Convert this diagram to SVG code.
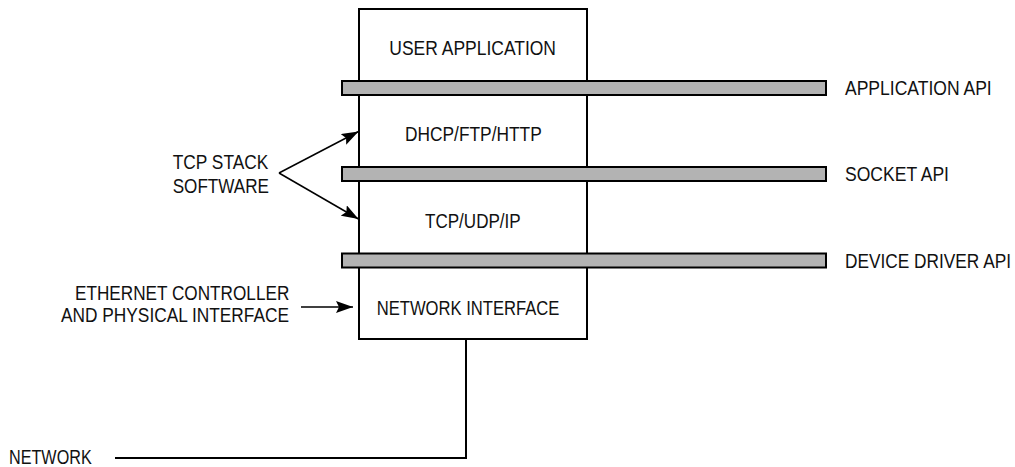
<svg xmlns="http://www.w3.org/2000/svg" width="1015" height="467" viewBox="0 0 1015 467">
<style>
  text { font-family: "Liberation Sans", Arial, sans-serif; font-size: 17.2px; fill: #111; }
  .box { fill: #fff; stroke: #000; stroke-width: 2; }
  .bar { fill: #b3b3b3; stroke: #000; stroke-width: 2; }
  .wire { fill: none; stroke: #000; stroke-width: 2; }
  .arrow { fill: none; stroke: #000; stroke-width: 1.5; marker-end: url(#head); }
</style>
<defs>
  <marker id="head" markerUnits="userSpaceOnUse" markerWidth="17" markerHeight="12" viewBox="0 0 17 12" refX="17" refY="6" orient="auto">
    <path d="M0,0 L17,6 L0,12 L3,6 Z" fill="#000"/>
  </marker>
</defs>
<rect width="1015" height="467" fill="#fff"/>

<g id="user-application">
  <rect class="box" x="359" y="9" width="228" height="80"/>
  <text transform="translate(389.3,55) scale(1,1.13)" textLength="166.7" lengthAdjust="spacingAndGlyphs">USER APPLICATION</text>
</g>
<g id="dhcp-ftp-http">
  <rect class="box" x="359" y="88" width="228" height="86"/>
  <text transform="translate(405,141) scale(1,1.13)" textLength="136.7" lengthAdjust="spacingAndGlyphs">DHCP/FTP/HTTP</text>
</g>
<g id="tcp-udp-ip">
  <rect class="box" x="359" y="174" width="228" height="86"/>
  <text transform="translate(425,228) scale(1,1.13)" textLength="95.7" lengthAdjust="spacingAndGlyphs">TCP/UDP/IP</text>
</g>
<g id="network-interface">
  <rect class="box" x="359" y="260" width="228" height="79"/>
  <text transform="translate(376.7,315) scale(1,1.13)" textLength="182.7" lengthAdjust="spacingAndGlyphs">NETWORK INTERFACE</text>
</g>

<g id="application-api">
  <rect class="bar" x="342" y="81" width="484" height="14"/>
  <text transform="translate(845,94.5) scale(1,1.13)" textLength="146.7" lengthAdjust="spacingAndGlyphs">APPLICATION API</text>
</g>
<g id="socket-api">
  <rect class="bar" x="342" y="167" width="484" height="14"/>
  <text transform="translate(845,181) scale(1,1.13)" textLength="104" lengthAdjust="spacingAndGlyphs">SOCKET API</text>
</g>
<g id="device-driver-api">
  <rect class="bar" x="342" y="253.5" width="484" height="14"/>
  <text transform="translate(845,268) scale(1,1.13)" textLength="166" lengthAdjust="spacingAndGlyphs">DEVICE DRIVER API</text>
</g>

<g id="tcp-stack-software">
  <text transform="translate(172.7,169.3) scale(1,1.13)" textLength="95.6" lengthAdjust="spacingAndGlyphs">TCP STACK</text>
  <text transform="translate(172.7,193.3) scale(1,1.13)" textLength="96.3" lengthAdjust="spacingAndGlyphs">SOFTWARE</text>
</g>
<g id="ethernet-controller">
  <text transform="translate(75,300) scale(1,1.13)" textLength="214.3" lengthAdjust="spacingAndGlyphs">ETHERNET CONTROLLER</text>
  <text transform="translate(61,322) scale(1,1.13)" textLength="228" lengthAdjust="spacingAndGlyphs">AND PHYSICAL INTERFACE</text>
</g>
<g id="network">
  <text transform="translate(9,464) scale(1,1.13)" textLength="82.7" lengthAdjust="spacingAndGlyphs">NETWORK</text>
</g>

<g id="connectors">
  <line class="arrow" x1="279" y1="173" x2="358.5" y2="131.5"/>
  <line class="arrow" x1="279" y1="173" x2="358.5" y2="219"/>
  <line class="arrow" x1="301" y1="307" x2="353" y2="307"/>
  <polyline class="wire" points="466,339 466,458 115,458"/>
</g>
</svg>
